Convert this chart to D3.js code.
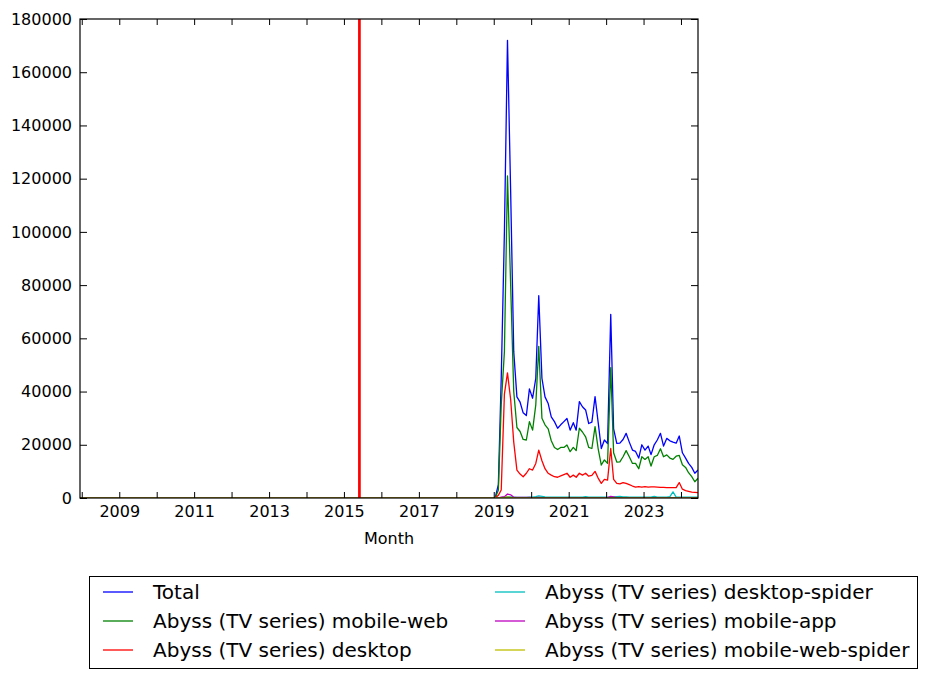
<!DOCTYPE html>
<html><head><meta charset="utf-8">
<script src="https://cdn.jsdelivr.net/npm/d3@7"></script>
<style>body{margin:0;background:#fff} svg{display:block;font-family:"DejaVu Sans",sans-serif}</style>
</head><body>
<script>
// ---- data (monthly pageviews) ----
const firstMonth = [2007, 12];   // first data month (Dec 2007)
const lastMonth = [2024, 6];     // last data month (Jun 2024)
// Dec 2007 .. Dec 2018: no views (133 months)
const zerosBefore2019 = [0,0,0,0,0,0,0,0,0,0,0,0,0,0,0,0,0,0,0,0,0,0,0,0,0,0,0,0,0,0,0,0,0,0,0,0,0,0,0,0,0,0,0,0,0,0,0,0,0,0,0,0,0,0,0,0,0,0,0,0,0,0,0,0,0,0,0,0,0,0,0,0,0,0,0,0,0,0,0,0,0,0,0,0,0,0,0,0,0,0,0,0,0,0,0,0,0,0,0,0,0,0,0,0,0,0,0,0,0,0,0,0,0,0,0,0,0,0,0,0,0,0,0,0,0,0,0,0,0,0,0,0,0];
// Jan 2019 .. Jun 2024 (66 months)
const totalFrom2019 = [
  0,5000,45000,100000,172000,115000,55000,38000,36000,32000,31000,41000,
  37500,45000,76000,45000,38000,35500,30500,28700,26200,27500,28700,29900,
  25500,28300,25500,36200,34300,33100,28000,28500,38100,28500,18600,21800,
  20500,69000,26000,20500,20600,22000,24300,21000,18000,17500,15000,20000,
  18000,19500,16300,20000,21800,24300,19500,22400,21500,21000,20600,23300,
  17000,15000,13000,11500,9300,10500];
const mobileWebFrom2019 = [
  0,3000,35000,55000,121000,80000,40000,26500,25000,22000,21800,28700,
  25500,35000,57000,30000,27500,26000,21500,19000,18200,19000,19000,19900,
  17400,19000,17800,26200,24800,23000,19000,18600,26800,18600,12400,14300,
  13000,49000,17000,13500,13600,15500,17800,15500,13000,13000,11000,15500,
  14500,15500,12000,15500,16000,18500,15500,16200,15000,14500,15700,16000,
  12500,11500,9500,8000,6100,7400];
const desktopFrom2019 = [
  0,1000,3000,39000,47000,37000,21000,10500,9000,8000,9300,11000,
  10500,13000,18000,14000,11000,9300,8600,8000,7800,8300,8800,9300,
  7800,8600,7800,9300,8600,9300,8200,8500,10000,7500,5500,7000,
  6700,18600,7000,5500,5300,5800,5500,5000,4500,4100,4300,4100,
  4300,4100,4200,4200,4100,4000,4000,3900,3900,3900,3900,5800,
  3300,2800,2500,2200,2100,2000];
const desktopSpiderFrom2019 = [
  0,0,100,300,500,400,300,200,200,200,200,300,
  300,500,800,600,400,300,300,300,300,300,300,300,
  300,300,300,300,300,500,300,300,300,300,300,300,
  300,300,400,500,600,400,400,300,300,300,300,300,
  300,300,300,600,300,300,300,300,500,2300,300,300,
  300,300,300,300,300,300];
const mobileAppFrom2019 = [
  0,0,300,500,1500,1200,300,200,200,200,200,200,
  150,150,200,150,150,150,150,150,150,150,150,150,
  150,150,150,150,150,150,150,150,150,150,150,150,
  150,600,400,150,150,150,150,150,150,150,150,150,
  150,150,150,150,150,150,150,150,150,150,150,150,
  150,150,150,150,150,150];
const mobileWebSpiderFrom2019 = [
  0,0,100,200,400,200,100,50,50,50,50,50,
  50,50,50,50,50,50,50,50,50,50,50,50,
  50,50,50,50,50,50,50,50,50,50,50,50,
  50,50,50,50,50,50,50,50,50,50,50,50,
  50,50,50,50,50,50,50,50,50,50,50,50,
  50,50,50,50,50,50];
const seriesNames = ["Total","Abyss (TV series) mobile-web","Abyss (TV series) desktop",
  "Abyss (TV series) desktop-spider","Abyss (TV series) mobile-app","Abyss (TV series) mobile-web-spider"];
const seriesColors = ["#0000ff","#008000","#ff0000","#00bfbf","#bf00bf","#bfbf00"];
const markerDate = [2015, 6];           // red vertical line
const yTicks = [0,20000,40000,60000,80000,100000,120000,140000,160000,180000];
const xLabelYears = [2009,2011,2013,2015,2017,2019,2021,2023];
const xLabel = "Month";

// ---- build ----
const W = 927, H = 679;
const L = 80, R = 698, T = 19, B = 498;
const months = d3.timeMonth.range(new Date(firstMonth[0], firstMonth[1]-1, 1),
                                  new Date(lastMonth[0], lastMonth[1], 1))
  .map(d => new Date(d.getFullYear(), d.getMonth(), 15));
const seriesValues = [totalFrom2019, mobileWebFrom2019, desktopFrom2019,
  desktopSpiderFrom2019, mobileAppFrom2019, mobileWebSpiderFrom2019]
  .map(a => zerosBefore2019.concat(a));

const svg = d3.select("body").append("svg").attr("width", W).attr("height", H);
const x = d3.scaleTime().domain([months[0], months[months.length-1]]).range([L, R]);
const y = d3.scaleLinear().domain([0, 180000]).range([B, T]);

const g = svg.append("g");
g.append("defs").append("clipPath").attr("id","clip")
  .append("rect").attr("x",L).attr("y",T).attr("width",R-L).attr("height",B-T);

const line = d3.line().x((d,i)=>x(months[i])).y(d=>y(d));
const plot = g.append("g").attr("clip-path","url(#clip)");
seriesValues.forEach((vals, k) => {
  plot.append("path").datum(vals).attr("d", line)
    .attr("fill","none").attr("stroke", seriesColors[k]).attr("stroke-width",1.3)
    .attr("stroke-linejoin","round");
});
const mx = x(new Date(markerDate[0], markerDate[1]-1, 1));
plot.append("line").attr("x1",mx).attr("x2",mx).attr("y1",T).attr("y2",B)
  .attr("stroke","#ff0000").attr("stroke-width",2.7);

// axes
const yearTicks = d3.timeYear.range(new Date(2008,0,1), new Date(2025,0,1)).filter(d => x(d) >= L && x(d) <= R);
const fontSize = 16;
const bx = d3.axisBottom(x).tickValues(yearTicks).tickSize(-6).tickPadding(8)
  .tickFormat(d => xLabelYears.includes(d.getFullYear()) ? d.getFullYear() : "");
const tx = d3.axisTop(x).tickValues(yearTicks).tickSize(-6).tickFormat("");
const ly = d3.axisLeft(y).tickValues(yTicks).tickSize(-7).tickPadding(8).tickFormat(d3.format("d"));
const ry = d3.axisRight(y).tickValues(yTicks).tickSize(-7).tickFormat("");
function style(sel){
  sel.select(".domain").remove();
  sel.selectAll(".tick line").attr("stroke","#000").attr("stroke-width",1);
  sel.selectAll("text").attr("font-size",fontSize).attr("fill","#000").attr("font-family","DejaVu Sans");
}
g.append("g").attr("transform",`translate(0,${B})`).call(bx).call(style);
g.append("g").attr("transform",`translate(0,${T})`).call(tx).call(style);
g.append("g").attr("transform",`translate(${L},0)`).call(ly).call(style);
g.append("g").attr("transform",`translate(${R},0)`).call(ry).call(style);
g.append("rect").attr("x",L).attr("y",T).attr("width",R-L).attr("height",B-T)
  .attr("fill","none").attr("stroke","#000").attr("stroke-width",1.2);

g.append("text").attr("x",(L+R)/2).attr("y",544).attr("text-anchor","middle")
  .attr("font-size",fontSize).text(xLabel);

// legend
const lg = svg.append("g");
lg.append("rect").attr("x",89.5).attr("y",576.5).attr("width",828).attr("height",92)
  .attr("fill","#fff").attr("stroke","#000").attr("stroke-width",1);
const colX = [103, 495], rowY = [592, 621, 650];
seriesNames.forEach((name,k) => {
  const col = Math.floor(k/3), row = k%3;
  const cx = colX[col], cy = rowY[row];
  lg.append("line").attr("x1",cx).attr("x2",cx+30).attr("y1",cy).attr("y2",cy)
    .attr("stroke",seriesColors[k]).attr("stroke-width",1.3);
  lg.append("text").attr("x",cx+50).attr("y",cy).attr("dy","0.36em")
    .attr("font-size",20).text(name);
});
</script>
</body></html>
